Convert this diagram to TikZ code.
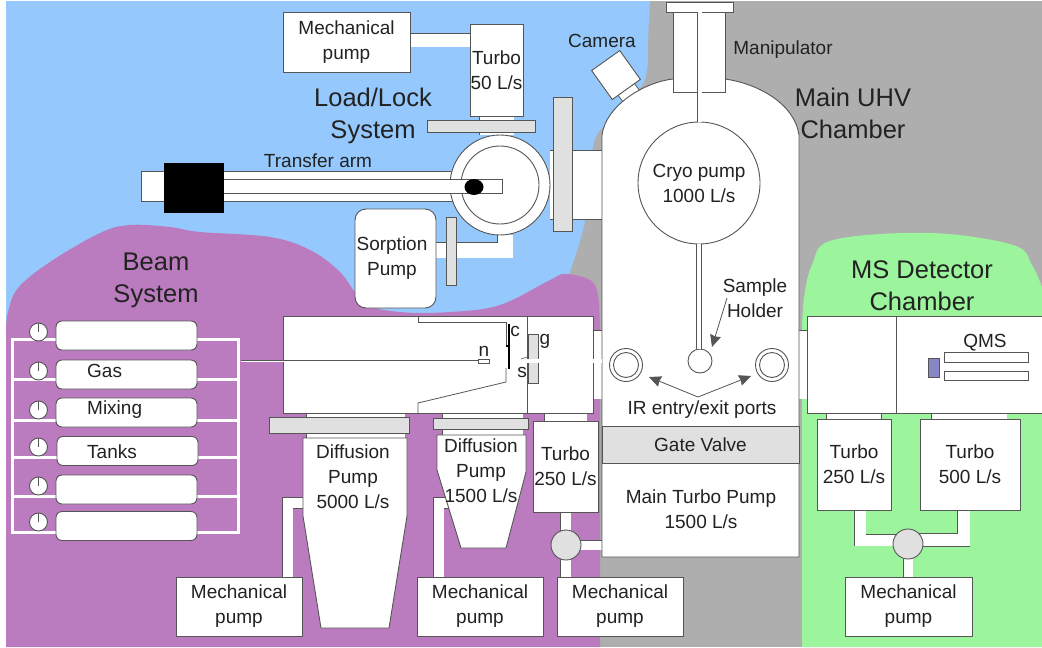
\documentclass[tikz,border=0pt]{standalone}
\usepackage{fontspec}
\usepackage{xcolor}
\usetikzlibrary{shapes.geometric, arrows.meta, backgrounds}
\setmainfont{Liberation Sans}
\definecolor{edge}{HTML}{555555}
\definecolor{ink}{HTML}{222222}
\definecolor{lockblue}{HTML}{95C9FD}
\definecolor{beampurple}{HTML}{BA7CBE}
\definecolor{uhvgray}{HTML}{AEAEAE}
\definecolor{msgreen}{HTML}{9CF59C}
\definecolor{partgray}{HTML}{E0E0E0}

\begin{document}
\begin{tikzpicture}[
  x=1pt, y=-1pt,
  box/.style={rectangle, draw=edge, fill=white, line width=.9pt, inner sep=0pt, outer sep=0pt, align=center, text=ink, font=\fontsize{19}{25}\selectfont},
  flange/.style={box, fill=partgray},
  tank/.style={box, rounded corners=6pt, minimum width=141pt, minimum height=29pt},
  gauge/.style={circle, draw=edge, fill=white, line width=.9pt, inner sep=0pt, outer sep=0pt, minimum size=18pt},
  valve/.style={gauge, fill=partgray, minimum size=30pt},
  roundbox/.style={gauge, align=center, text=ink, font=\fontsize{19}{25}\selectfont},
  lbl/.style={inner sep=0pt, align=center, text=ink, font=\fontsize{19}{25}\selectfont},
  biglbl/.style={lbl, font=\fontsize{25.5}{32}\selectfont},
  pipe/.style={draw=edge, double=white, line width=.9pt, double distance=#1},
  manifold/.style={white, line width=3pt},
  arrow/.style={draw=edge, line width=.8pt, -{Stealth[length=12pt, width=11pt, inset=1pt]}}
]
  \useasboundingbox (0,0) rectangle (1042,648);

  \node[box, minimum width=127pt, minimum height=60pt] (mechlock) at (346.5,42) {Mechanical\\pump};
  \node[box, minimum width=53pt, minimum height=92pt] (turbolock) at (496.5,70) {Turbo\\50 L/s};
  \node[flange, minimum width=108pt, minimum height=12pt] (lockflange) at (481,126) {};
  \node[box, minimum width=330pt, minimum height=30pt] (armtube) at (306,186) {};
  \node[gauge, minimum size=100pt] (lockouter) at (500,185) {};
  \node[gauge, minimum size=78pt] (lockinner) at (500,185) {};
  \node[box, minimum width=279pt, minimum height=14pt] (armrod) at (362.5,186) {};
  \node[box, draw=black, fill=black, minimum width=59pt, minimum height=49pt] (armseal) at (193.5,187.5) {};
  \node[ellipse, fill=black, inner sep=0pt, minimum width=19pt, minimum height=16pt] (armgrip) at (474,187) {};
  \node[flange, minimum width=19pt, minimum height=134pt] (lockvalve) at (562.5,164) {};
  \node[box, rounded corners=11pt, minimum width=81pt, minimum height=99pt] (sorption) at (395.5,258.5) {};
  \node[lbl] (sorptionname) at (392,258) {Sorption\\Pump};
  \node[flange, minimum width=10pt, minimum height=68pt] (sorpflange) at (451,251) {};

  \draw[box] (602,557) -- (602,135) .. controls (606,105) and (645,82) .. (673,79) -- (725,79) .. controls (760,84) and (795,105) .. (799,135) -- (799,557) -- cycle;
  \coordinate (chamberwest) at (602,300);
  \coordinate (chambereast) at (799,300);
  \node[box, rotate=35.5, minimum width=34.5pt, minimum height=35.5pt] (camera) at (616,75) {};
  \coordinate (camerafoot) at (635,101);
  \node[box, minimum width=52pt, minimum height=80pt] (manip) at (699,52) {};
  \node[box, minimum width=67pt, minimum height=10pt] (manipcap) at (699.5,7) {};
  \node[roundbox, minimum size=122pt] (cryo) at (699,183) {Cryo pump\\1000 L/s};
  \node[gauge, minimum size=24pt] (sample) at (700,361) {};
  \draw[pipe=4pt] (manipcap.south) -- (manipcap.south |- cryo.north);
  \draw[pipe=4pt] (cryo.south) -- (cryo.south |- sample.north);
  \node[gauge, minimum size=33pt] (portleft) at (626,365) {};
  \node[gauge, minimum size=25pt] at (portleft) {};
  \node[gauge, minimum size=33pt] (portright) at (772,365) {};
  \node[gauge, minimum size=25pt] at (portright) {};
  \node[flange, minimum width=197pt, minimum height=37pt] (gate) at (700.5,444.5) {Gate Valve};
  \node[lbl] (mainturbo) at (701,509.5) {Main Turbo Pump\\1500 L/s};
  \node[lbl] (irports) at (702,410) {IR entry/exit ports};
  \coordinate (irfork) at (698,397);
  \coordinate (irtipleft) at (649,377);
  \coordinate (irtipright) at (751,376);
  \draw[arrow] (irfork) -- (irtipleft);
  \draw[arrow] (irfork) -- (irtipright);
  \node[lbl] (holder) at (755,298) {Sample\\Holder};
  \coordinate (holdertail) at (727,298);
  \coordinate (holdertip) at (712,347);
  \draw[arrow] (holdertail) -- (holdertip);

  \node[box, minimum width=244pt, minimum height=97pt] (source) at (405,364.5) {};
  \node[box, minimum width=66pt, minimum height=97pt] (detector) at (560,364.5) {};
  \draw[draw=edge, line width=.8pt] (418,316) -- (418,322) -- (506,322) -- (506,345);
  \draw[draw=edge, line width=.8pt] (506,368) -- (506,382) -- (418,403) -- (418,413);
  \draw[black, line width=2pt] (509,324) -- (509,369);
  \draw[black, line width=2pt] (506,346) -- (509,346);
  \node[box, line width=.7pt, minimum width=11pt, minimum height=4pt] (nozzle) at (483.5,361) {};
  \coordinate (gasfeed) at (241,361);
  \draw[pipe=1pt, line width=.6pt] (gasfeed) -- (nozzle.west);
  \node[flange, minimum width=10pt, minimum height=49pt] (gateflange) at (533,358.5) {};
  \draw[draw=edge, line width=.6pt] (521,359) -- (527,357);
  \coordinate (beamstart) at (523,361);
  \draw[white, line width=3.5pt] (beamstart) -- (beamstart -| chamberwest);
  \node[lbl] (labelc) at (515,331) {c};
  \node[lbl] (labelg) at (545,341) {g};
  \node[lbl] (labeln) at (484,351) {n};
  \node[lbl] (labels) at (522,372) {s};

  \node[flange, minimum width=140pt, minimum height=16pt] (diffbigflange) at (339,425) {};
  \node[flange, minimum width=95pt, minimum height=11pt] (diffsmallflange) at (480.5,423.5) {};
  \node[box, minimum width=65pt, minimum height=91pt] (turbobeam) at (565.5,466.5) {Turbo\\250 L/s};
  \node[valve] (valvebeam) at (566,545) {};
  \node[box, minimum width=126pt, minimum height=59pt] (mechbig) at (239,606.5) {Mechanical\\pump};
  \node[box, minimum width=126pt, minimum height=59pt] (mechsmall) at (480,606.5) {Mechanical\\pump};
  \node[box, minimum width=126pt, minimum height=59pt] (mechturbo) at (620,606.5) {Mechanical\\pump};

  \draw[box] (303,438) -- (407,438) -- (407,516) -- (389,628) -- (321,628) -- (303,516) -- cycle;
  \node[lbl] (diffbig) at (353,477) {Diffusion\\Pump\\5000 L/s};
  \draw[box] (437,435) -- (526,435) -- (526,472) -- (506,548) -- (461,548) -- (437,470) -- cycle;
  \node[lbl] (diffsmall) at (481,471) {Diffusion\\Pump\\1500 L/s};

  \foreach \i/\ty/\gy/\ly/\tx in {1/335.5/332/339/56, 2/374.5/371/379/56, 3/412.5/410/420/56, 4/451/447/457/57, 5/489.5/486/496/56, 6/526/522/532/56} {
    \node[tank, anchor=west] (tank\i) at (\tx,\ty) {};
    \node[gauge] (gauge\i) at (38.5,\gy) {};
    \draw[draw=edge, line width=.7pt] (gauge\i.center) -- (gauge\i.north);
    \coordinate (manleft\i) at (12,\ly);
    \coordinate (manright\i) at (238,\ly);
  }
  \node[lbl, anchor=west] (gas) at (87,371) {Gas};
  \node[lbl, anchor=west] (mixing) at (87,410) {Mixing};
  \node[lbl, anchor=west] (tanks) at (87,452) {Tanks};

  \node[box, minimum width=89pt, minimum height=97pt] (msfront) at (851.5,364.5) {};
  \node[box, minimum width=150pt, minimum height=97pt] (msrear) at (971,364.5) {};
  \node[box, line width=.8pt, minimum width=84pt, minimum height=10pt] (rodtop) at (986,357) {};
  \node[box, line width=.8pt, minimum width=84pt, minimum height=9pt] (rodbottom) at (986,375.5) {};
  \node[box, line width=.5pt, fill=blue!35!gray!70, minimum width=11pt, minimum height=19pt] (ionizer) at (934,367.5) {};
  \node[lbl] (qms) at (985,343) {QMS};
  \node[box, minimum width=74pt, minimum height=91pt] (turbofront) at (854,464.5) {Turbo\\250 L/s};
  \node[box, minimum width=100pt, minimum height=91pt] (turborear) at (970,464.5) {Turbo\\500 L/s};
  \node[valve] (valvems) at (908,544) {};
  \node[box, minimum width=127pt, minimum height=59pt] (mechms) at (908.5,606.5) {Mechanical\\pump};

  \node[biglbl] (lockname) at (373,116) {Load/Lock\\System};
  \node[biglbl] (beamname) at (156,280) {Beam\\System};
  \node[biglbl] (mainname) at (853,113) {Main UHV\\Chamber};
  \node[biglbl] (msname) at (922,286) {MS Detector\\Chamber};
  \node[lbl] (armname) at (318,161) {Transfer arm};
  \node[lbl] (cameraname) at (602,41) {Camera};
  \node[lbl] (manipname) at (783,50) {Manipulator};

  \begin{scope}[on background layer]
    \fill[uhvgray] (560,1) rectangle (1042,647);
    \fill[lockblue] (6,1) -- (650,1) -- plot[smooth, tension=.6] coordinates {(650,1) (648,40) (647,70) (640,88) (610,120) (594,142) (590,190) (583,230) (570,272) (560,300)} -- (560,330) -- (6,330) -- cycle;
    \fill[beampurple] plot[smooth, tension=.6] coordinates {(6,330) (8,312) (18,288) (50,262) (100,233) (130,225) (170,227) (200,232) (270,237) (310,250) (340,272) (365,303) (400,312) (450,312) (500,305) (550,280) (565,274) (590,280) (598,295) (600,330)} -- (600,647) -- (6,647) -- cycle;
    \fill[msgreen] plot[smooth, tension=.6] coordinates {(802,330) (804,298) (812,265) (833,240) (930,233) (1013,245) (1032,265) (1043,290)} -- (1043,647) -- (802,647) -- cycle;

    \draw[pipe=13pt] ([yshift=2pt]mechlock.east) -- ([yshift=2pt]mechlock.east -| turbolock.west);
    \draw[pipe=34pt] ([xshift=0pt]turbolock.south) -- (turbolock.south |- lockouter.north);
    \draw[pipe=68pt] (lockouter.east) -- (lockouter.east -| chamberwest);
    \draw[pipe=15pt] ([yshift=8.5pt]sorption.east) -| ([xshift=5pt]lockouter.south);
    \draw[pipe=19pt] (camera.south) -- (camerafoot);
    \draw[pipe=68pt] (detector.east) -- (detector.east -| chamberwest);
    \draw[pipe=68pt] (msfront.west) -- (msfront.west -| chambereast);
    \draw[pipe=98pt] ([xshift=2.5pt]diffbig.north |- source.south) -- ([xshift=2.5pt]diffbig.north);
    \draw[pipe=80pt] ([xshift=1.5pt]diffsmall.north |- source.south) -- ([xshift=1.5pt]diffsmall.north);
    \draw[pipe=42pt] (turbobeam.north) -- (turbobeam.north |- source.south);
    \draw[pipe=10pt] (turbobeam.south) -- (turbobeam.south |- mechturbo.north);
    \draw[pipe=9pt] (valvebeam.center) -- (valvebeam.center -| chamberwest);
    \draw[pipe=10pt] ([xshift=48.5pt]mechbig.north) |- ([yshift=-26pt]diffbig.west);
    \draw[pipe=10pt] ([xshift=-41.5pt]mechsmall.north) |- ([xshift=6pt, yshift=-32pt]diffsmall.west);
    \draw[pipe=54pt] (turbofront.north) -- (turbofront.north |- msfront.south);
    \draw[pipe=75pt] ([xshift=-1pt]turborear.north) -- ([xshift=-1pt]turborear.north |- msrear.south);
    \draw[pipe=11pt] ([xshift=6pt]turbofront.south) |- ([yshift=4pt]valvems.center);
    \draw[pipe=12pt] ([xshift=-6.5pt]turborear.south) |- ([yshift=4pt]valvems.center);
    \draw[pipe=9pt] (valvems.south) -- (valvems.south |- mechms.north);

    \foreach \i in {1,...,6}
      \draw[manifold] (manleft\i) -- (manright\i);
    \draw[manifold, line cap=rect] (manleft1) -- (manleft6);
    \draw[manifold, line cap=rect] (manright1) -- (manright6);
  \end{scope}
\end{tikzpicture}
\end{document}
